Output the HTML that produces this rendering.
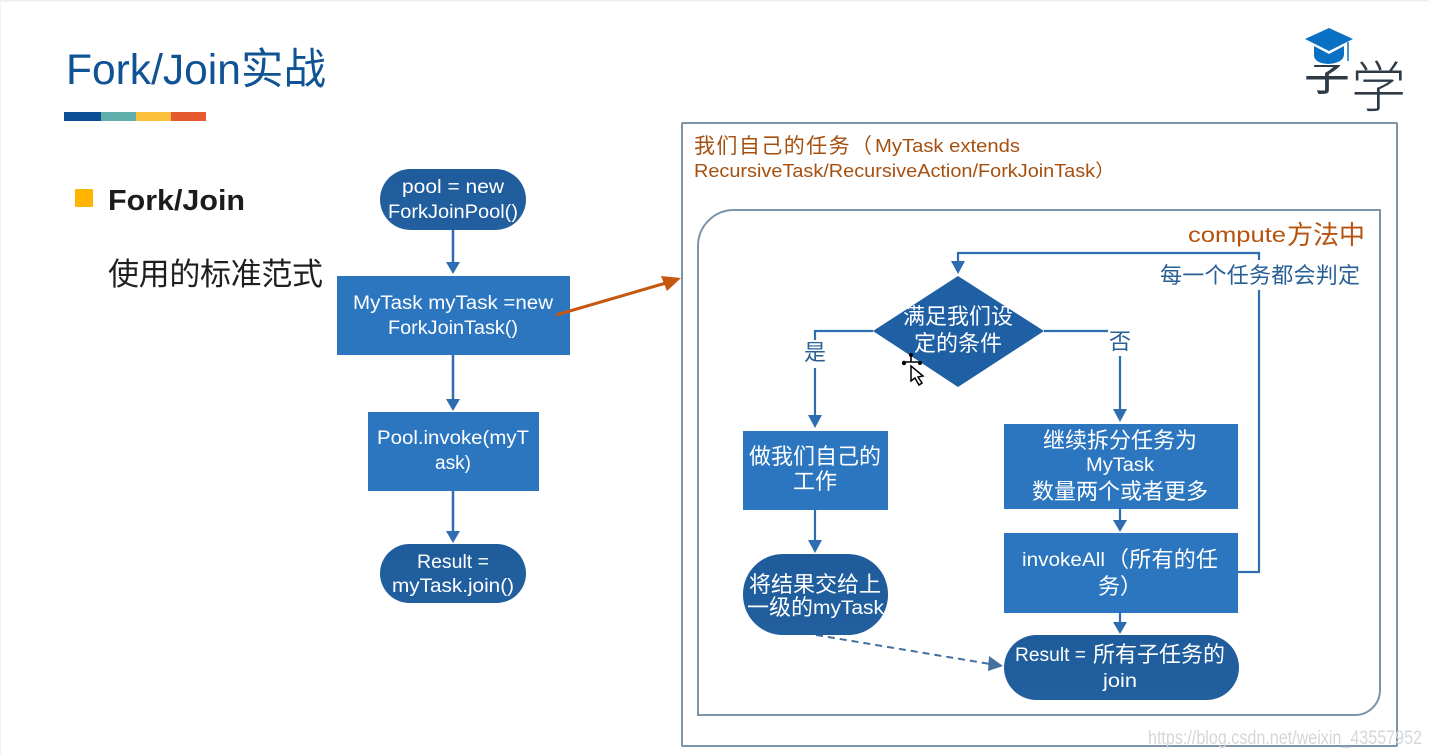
<!DOCTYPE html>
<html><head><meta charset="utf-8">
<style>
html,body{margin:0;padding:0;background:#fff;width:1429px;height:755px;overflow:hidden}
svg{display:block;filter:blur(0.35px)}
text{font-family:"Liberation Sans","Noto Sans CJK SC",sans-serif}
.w{fill:#fff;font-size:19px}
.z{fill:#fff;font-size:22px}
.c{text-anchor:middle}
.o{fill:#a5500f;font-size:18px}
.b{fill:#2a5f96;font-size:22px}
</style></head><body>
<svg width="1429" height="755" viewBox="0 0 1429 755" xmlns="http://www.w3.org/2000/svg">
<defs>
<linearGradient id="p" x1="0" y1="0" x2="0" y2="1"><stop offset="0" stop-color="#1f5c9b"/><stop offset="1" stop-color="#225f9f"/></linearGradient>
</defs>
<rect width="1429" height="755" fill="#fff"/>
<rect width="1429" height="1.5" fill="#e9eef4"/>
<rect width="1" height="755" fill="#f1f3f6"/>

<text x="66" y="84" font-size="43" fill="#0f5394" textLength="260" lengthAdjust="spacingAndGlyphs">Fork/Join实战</text>
<rect x="64" y="112" width="37" height="9" fill="#0b4f96"/>
<rect x="101" y="112" width="35" height="9" fill="#5fb0ac"/>
<rect x="136" y="112" width="35" height="9" fill="#fdc03c"/>
<rect x="171" y="112" width="35" height="9" fill="#e7592f"/>

<rect x="75" y="189" width="18" height="18" rx="1" fill="#ffb400"/>
<text x="108" y="210" font-size="29" font-weight="700" fill="#1c1c1c" textLength="137" lengthAdjust="spacingAndGlyphs">Fork/Join</text>
<text x="108" y="285" font-size="31" fill="#1f1f1f" textLength="215" lengthAdjust="spacing">使用的标准范式</text>

<!-- logo -->
<text x="1303" y="90" font-size="48" fill="#2e3b47">字</text>
<rect x="1300" y="24" width="54" height="41" fill="#fff"/>
<text x="1351" y="107" font-size="55" font-weight="300" fill="#2e3b47">学</text>
<path d="M1314 46v9q0 8 14 9q15-1 16-9v-9l-15 8z" fill="#0a70c4"/>
<path d="M1329 28l24 11-24 12-24-12z" fill="#0a70c4"/>
<path d="M1348 42v19" stroke="#0a70c4" stroke-width="1.5"/>

<!-- left flow -->
<g stroke="#2e6db0" stroke-width="2.5" fill="none">
<path d="M453 230v34M453 355v46M453 491v42"/>
</g>
<g fill="#2e6db0">
<path d="M446 262h14l-7 12z"/><path d="M446 399h14l-7 12z"/><path d="M446 531h14l-7 12z"/>
</g>
<rect x="380" y="169" width="146" height="61" rx="30.5" fill="url(#p)"/>
<rect x="337" y="276" width="233" height="79" fill="#2c76c0"/>
<rect x="368" y="412" width="171" height="79" fill="#2c76c0"/>
<rect x="380" y="544" width="146" height="59" rx="29.5" fill="url(#p)"/>
<text class="w c" x="453" y="193" textLength="102" lengthAdjust="spacingAndGlyphs">pool = new</text>
<text class="w c" x="453" y="218" textLength="130" lengthAdjust="spacingAndGlyphs">ForkJoinPool()</text>
<text class="w c" x="453" y="309" textLength="200" lengthAdjust="spacingAndGlyphs">MyTask myTask =new</text>
<text class="w c" x="453" y="334" textLength="130" lengthAdjust="spacingAndGlyphs">ForkJoinTask()</text>
<text class="w c" x="453" y="444" textLength="152" lengthAdjust="spacingAndGlyphs">Pool.invoke(myT</text>
<text class="w c" x="453" y="469" textLength="36" lengthAdjust="spacingAndGlyphs">ask)</text>
<text class="w c" x="453" y="568" textLength="72" lengthAdjust="spacingAndGlyphs">Result =</text>
<text class="w c" x="453" y="592" textLength="122" lengthAdjust="spacingAndGlyphs">myTask.join()</text>

<!-- outer box -->
<rect x="682" y="123" width="715" height="623" fill="#fff" stroke="#7d93a8" stroke-width="2" rx="1"/>

<!-- orange arrow -->
<path d="M556 315L666 283" stroke="#c5570f" stroke-width="3" fill="none"/>
<path d="M661 276L681 278 667 291z" fill="#c5570f"/>

<text x="694" y="153" font-size="21" fill="#a5500f" textLength="178" lengthAdjust="spacing">我们自己的任务（</text>
<text class="o" x="875" y="152" textLength="145" lengthAdjust="spacingAndGlyphs">MyTask extends</text>
<text class="o" x="694" y="177" textLength="421" lengthAdjust="spacingAndGlyphs">RecursiveTask/RecursiveAction/ForkJoinTask）</text>

<!-- inner box -->
<path d="M734 210H1380V690a25 25 0 0 1-25 25H698V246a36 36 0 0 1 36-36z" fill="#fff" stroke="#7d93a8" stroke-width="2"/>
<text x="1188" y="242" font-size="21" fill="#b5530e" textLength="98" lengthAdjust="spacingAndGlyphs">compute</text>
<text x="1287" y="244" font-size="26" fill="#b5530e" textLength="78" lengthAdjust="spacing">方法中</text>

<!-- right flow connectors -->
<g stroke="#2e6db0" stroke-width="2.2" fill="none">
<path d="M1238 572H1259V253H958V264"/>
<path d="M873 331H815V340M815 368V418"/>
<path d="M1044 331H1108M1120 356V412"/>
<path d="M815 510V543M1120 509V522M1120 613V624"/>
</g>
<rect x="1155" y="260" width="208" height="30" fill="#fff"/>
<text class="b" x="1160" y="283" textLength="200" lengthAdjust="spacing">每一个任务都会判定</text>
<g fill="#2e6db0">
<path d="M951 261h14l-7 13z"/>
<path d="M808 415h14l-7 13z"/>
<path d="M1113 409h14l-7 13z"/>
<path d="M808 540h14l-7 13z"/>
<path d="M1113 520h14l-7 12z"/>
<path d="M1113 622h14l-7 12z"/>
</g>
<path d="M816 635L990 664" stroke="#44709f" stroke-width="2" stroke-dasharray="7 5" fill="none"/>
<path d="M989 656L1003 666 988 671z" fill="#44709f"/>

<polygon points="958,276 1044,331 958,387 873,331" fill="#1f5fa3"/>
<rect x="743" y="431" width="145" height="79" fill="#2c76c0"/>
<rect x="743" y="554" width="145" height="81" rx="40" fill="url(#p)"/>
<rect x="1004" y="424" width="234" height="85" fill="#2c76c0"/>
<rect x="1004" y="533" width="234" height="80" fill="#2c76c0"/>
<rect x="1004" y="635" width="235" height="65" rx="32.5" fill="url(#p)"/>

<text class="z c" x="958" y="324">满足我们设</text>
<text class="z c" x="958" y="351">定的条件</text>
<text class="b c" x="815" y="360">是</text>
<text class="b c" x="1120" y="349">否</text>
<text class="z c" x="815" y="464">做我们自己的</text>
<text class="z c" x="815" y="489">工作</text>
<text class="z c" x="815" y="592">将结果交给上</text>
<text class="z" x="747" y="615">一级的</text>
<text class="w" x="813" y="614" textLength="71" lengthAdjust="spacingAndGlyphs">myTask</text>
<text class="z c" x="1120" y="448">继续拆分任务为</text>
<text class="w c" x="1120" y="471" textLength="68" lengthAdjust="spacingAndGlyphs">MyTask</text>
<text class="z c" x="1120" y="499">数量两个或者更多</text>
<text class="w" x="1022" y="566" textLength="83" lengthAdjust="spacingAndGlyphs">invokeAll</text>
<text class="z" x="1107" y="567" textLength="111" lengthAdjust="spacing">（所有的任</text>
<text class="z" x="1098" y="594">务）</text>
<text class="w" x="1015" y="661" textLength="71" lengthAdjust="spacingAndGlyphs">Result =</text>
<text class="z" x="1093" y="662" textLength="132" lengthAdjust="spacing">所有子任务的</text>
<text class="w c" x="1120" y="687" textLength="34" lengthAdjust="spacingAndGlyphs">join</text>

<!-- cursor -->
<path d="M911 366l0 15 4-3 4 7 3-2-4-6 5-1z" fill="#fff" stroke="#000" stroke-width="1.5"/>
<path d="M911 356v6M905 362h14" stroke="#000" stroke-width="1.6"/>
<g fill="#000"><circle cx="911" cy="355" r="2"/><circle cx="904" cy="363" r="2.2"/><circle cx="920" cy="363" r="2"/></g>

<!-- watermark -->
<text x="1148" y="744" font-size="19" fill="#d4d6d9" textLength="274" lengthAdjust="spacingAndGlyphs">https://blog.csdn.net/weixin_43557952</text>
</svg>
</body></html>
